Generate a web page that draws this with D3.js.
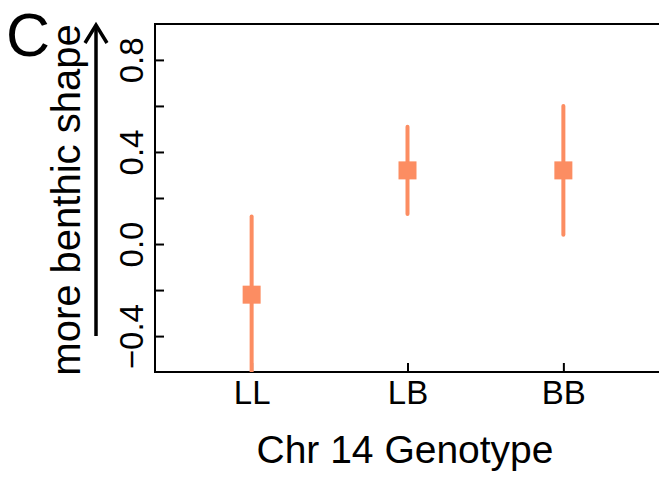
<!DOCTYPE html>
<html>
<head>
<meta charset="utf-8">
<script src="https://cdn.jsdelivr.net/npm/d3@7"></script>
<style>
  body { margin: 0; background: #fff; }
  text { font-family: "Liberation Sans", Arial, sans-serif; fill: #000; }
</style>
</head>
<body>
<svg id="chart" width="659" height="477"></svg>
<script>
// data
let genotypes = ["LL", "LB", "BB"];
let means = [-0.22, 0.32, 0.32];
let lower = [-0.58, 0.13, 0.04];
let upper = [0.12, 0.51, 0.60];
let yTicks = [-0.4, -0.2, 0.0, 0.2, 0.4, 0.6, 0.8];
let yLabelled = [-0.4, 0.0, 0.4, 0.8];

let col = "#FC8D62";
let plotLeft = 155, plotRight = 660, plotTop = 24, plotBottom = 372;

let svg = d3.select("#chart");

// R style limits: xlim 0.5..3.5, ylim -0.5..0.9, plus 4%
let x = d3.scaleLinear().domain([0.38, 3.62]).range([plotLeft, plotRight]);
let y = d3.scaleLinear().domain([-0.556, 0.956]).range([plotBottom, plotTop]);

svg.append("defs").append("clipPath").attr("id", "plotclip")
  .append("rect")
  .attr("x", plotLeft).attr("y", plotTop)
  .attr("width", plotRight - plotLeft).attr("height", plotBottom - plotTop);

// box (right side falls off the image)
svg.append("rect")
  .attr("x", plotLeft).attr("y", plotTop)
  .attr("width", plotRight - plotLeft + 2).attr("height", plotBottom - plotTop)
  .attr("fill", "none").attr("stroke", "#000").attr("stroke-width", 2);

// y axis, ticks point inward
let axisY = d3.axisLeft(y).tickValues(yTicks).tickSize(-9)
  .tickFormat(d => yLabelled.some(v => Math.abs(v - d) < 1e-9) ? d3.format(".1f")(d).replace("-", "\u2212") : "");
let gy = svg.append("g").attr("transform", `translate(${plotLeft},0)`).call(axisY);
gy.select(".domain").remove();
gy.selectAll(".tick line").attr("stroke", "#000").attr("stroke-width", 2);
gy.selectAll(".tick text")
  .attr("x", null).attr("dy", null)
  .attr("transform", "translate(-12,0) rotate(-90)")
  .attr("text-anchor", "middle")
  .style("font-size", "33px");

// x axis
let axisX = d3.axisBottom(x).tickValues([1, 2, 3]).tickSize(-9)
  .tickFormat((d, i) => genotypes[i]);
let gx = svg.append("g").attr("transform", `translate(0,${plotBottom})`).call(axisX);
gx.select(".domain").remove();
gx.selectAll(".tick line").attr("stroke", "#000").attr("stroke-width", 2);
gx.selectAll(".tick text")
  .attr("y", 32).attr("dy", null)
  .style("font-size", "33px");

// error bars and means
let marks = svg.append("g").attr("clip-path", "url(#plotclip)");
marks.selectAll(".err")
  .data(genotypes)
  .enter()
  .append("line")
  .attr("x1", (d, i) => x(i + 1))
  .attr("x2", (d, i) => x(i + 1))
  .attr("y1", (d, i) => y(lower[i]))
  .attr("y2", (d, i) => y(upper[i]))
  .attr("stroke", col)
  .attr("stroke-width", 4)
  .attr("stroke-linecap", "round");

marks.selectAll(".dot")
  .data(genotypes)
  .enter()
  .append("rect")
  .attr("x", (d, i) => x(i + 1) - 9)
  .attr("y", (d, i) => y(means[i]) - 9)
  .attr("width", 18)
  .attr("height", 18)
  .attr("fill", col);

// axis titles
svg.append("text")
  .attr("x", 405)
  .attr("y", 463)
  .attr("text-anchor", "middle")
  .style("font-size", "39px")
  .text("Chr 14 Genotype");

svg.append("text")
  .attr("transform", "translate(80,200) rotate(-90)")
  .attr("text-anchor", "middle")
  .style("font-size", "40px")
  .text("more benthic shape");

// arrow next to y title
svg.append("line")
  .attr("x1", 96).attr("y1", 336)
  .attr("x2", 96).attr("y2", 25)
  .attr("stroke", "#000").attr("stroke-width", 3.5);
svg.append("path")
  .attr("d", "M85,43 L96,25 L107,43")
  .attr("fill", "none").attr("stroke", "#000").attr("stroke-width", 3.5);

// panel letter
svg.append("text")
  .attr("x", 6)
  .attr("y", 56)
  .style("font-size", "61px")
  .text("C");
</script>
</body>
</html>
